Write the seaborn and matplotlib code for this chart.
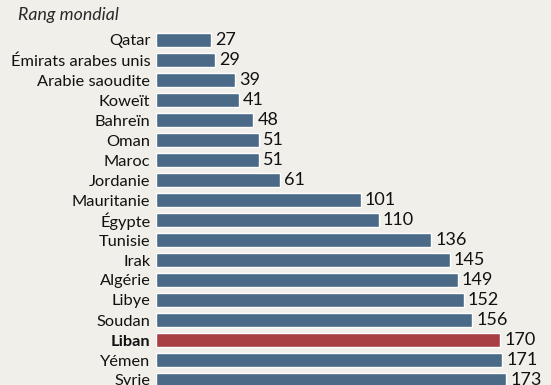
import matplotlib
matplotlib.use("Agg")
import matplotlib.pyplot as plt
import seaborn as sns
import pandas as pd

# data
countries = ["Qatar", "Émirats arabes unis", "Arabie saoudite", "Koweït", "Bahreïn",
             "Oman", "Maroc", "Jordanie", "Mauritanie", "Égypte", "Tunisie", "Irak",
             "Algérie", "Libye", "Soudan", "Liban", "Yémen", "Syrie"]
ranks = [27, 29, 39, 41, 48, 51, 51, 61, 101, 110, 136, 145, 149, 152, 156, 170, 171, 173]
highlight = "Liban"

BG = "#f1efea"
BLUE = "#4a6a87"
RED = "#a83f45"

sns.set_theme(style="white")
plt.rcParams["font.family"] = ["Lato", "DejaVu Sans"]

df = pd.DataFrame({"country": countries, "rank": ranks})
palette = {c: (RED if c == highlight else BLUE) for c in countries}

fig = plt.figure(figsize=(5.51, 3.85), dpi=100, facecolor=BG)
ax = fig.add_axes([156 / 551, 0, 1 - 156 / 551, (385 - 30) / 385])
ax.set_facecolor(BG)

sns.barplot(data=df, y="country", x="rank", hue="country", palette=palette,
            orient="h", width=0.68, saturation=1, legend=False, ax=ax)

ax.set_xlim(0, 195)
ax.set_ylim(17.25, -0.5)
for s in ax.spines.values():
    s.set_visible(False)
ax.set_xticks([])
ax.set_xlabel("")
ax.set_ylabel("")
ax.tick_params(axis="y", length=0, pad=4, labelsize=11.8, labelcolor="#111111")
for lbl in ax.get_yticklabels():
    if lbl.get_text() == highlight:
        lbl.set_fontweight("bold")

for i, v in enumerate(ranks):
    ax.text(v + 2, i, str(v), va="center", ha="left", fontsize=13, color="#111111")

fig.text(18 / 551, 1 - 15 / 385, "Rang mondial", fontsize=12.8, style="italic",
         color="#2a2a2a", va="center", ha="left")

fig.savefig("out.png", dpi=100, facecolor=BG)
